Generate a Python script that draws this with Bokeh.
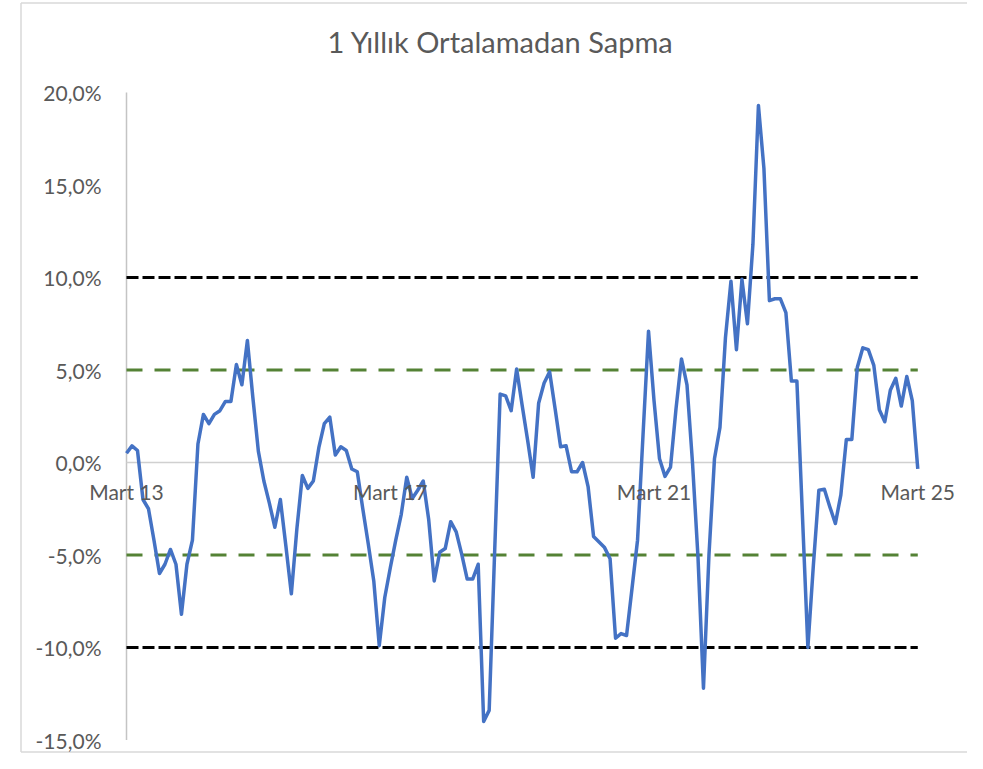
from bokeh.plotting import figure
from bokeh.models import Range1d
from bokeh.core.properties import value
from bokeh.embed import file_html
from bokeh.resources import INLINE

# ---------------- data ----------------
title_text = "1 Yıllık Ortalamadan Sapma"

# monthly deviation from 1-year average (%), Mart 2013 .. Mart 2025
deviation = [
    0.5, 0.9, 0.65, -2.0, -2.5, -4.2, -6.0, -5.5, -4.7, -5.5,
    -8.2, -5.5, -4.2, 1.0, 2.6, 2.1, 2.6, 2.8, 3.3, 3.3,
    5.3, 4.2, 6.6, 3.5, 0.6, -1.0, -2.2, -3.5, -2.0, -4.5,
    -7.1, -3.6, -0.7, -1.4, -1.0, 0.8, 2.1, 2.45, 0.4, 0.85,
    0.65, -0.35, -0.5, -2.5, -4.4, -6.4, -9.9, -7.3, -5.7, -4.2,
    -2.8, -0.8, -1.95, -1.5, -1.0, -3.1, -6.4, -4.85, -4.65, -3.2,
    -3.75, -4.95, -6.3, -6.3, -5.5, -14.0, -13.4, -4.8, 3.7, 3.6,
    2.8, 5.05, 3.1, 1.2, -0.8, 3.2, 4.3, 4.9, 2.9, 0.85,
    0.9, -0.5, -0.5, 0.0, -1.3, -4.0, -4.3, -4.6, -5.2, -9.5,
    -9.25, -9.35, -6.8, -4.2, 1.5, 7.1, 3.35, 0.2, -0.75, -0.25,
    2.9, 5.6, 4.2, 0.0, -5.1, -12.2, -5.0, 0.2, 1.9, 6.75,
    9.8, 6.1, 9.9, 7.5, 11.8, 19.3, 15.9, 8.75, 8.85, 8.85,
    8.1, 4.4, 4.4, -2.8, -10.0, -5.55, -1.5, -1.45, -2.4, -3.3,
    -1.75, 1.25, 1.25, 5.15, 6.2, 6.1, 5.25, 2.85, 2.2, 3.9,
    4.55, 3.05, 4.65, 3.35, -0.35,
]
month_index = list(range(len(deviation)))

category_labels = ["Mart 13", "Mart 17", "Mart 21", "Mart 25"]
category_positions = [0, 48, 96, 144]

y_ticks = [-15, -10, -5, 0, 5, 10, 15, 20]
y_tick_labels = ["-15,0%", "-10,0%", "-5,0%", "0,0%", "5,0%", "10,0%", "15,0%", "20,0%"]

band_outer = [10, -10]   # black dashed
band_inner = [5, -5]     # green dashed

# ---------------- layout / styling ----------------
TEXT = "#595959"
FONT = value("Lato")
W, H = 967, 753
PX_PER_MONTH = 5.495
PX_PER_PCT = 18.5
AXIS_PX_X, TOP20_PX_Y = 126, 92          # canvas position of (month 0, 20%)

x_start = -AXIS_PX_X / PX_PER_MONTH
x_end = (W - AXIS_PX_X) / PX_PER_MONTH
y_top = y_ticks[-1] + TOP20_PX_Y / PX_PER_PCT
y_bot = y_ticks[-1] - (H - TOP20_PX_Y) / PX_PER_PCT

p = figure(width=W, height=H,
           x_range=Range1d(x_start, x_end), y_range=Range1d(y_bot, y_top),
           output_backend="svg", toolbar_location=None,
           x_axis_location=None, y_axis_location=None,
           min_border=0)
p.outline_line_color = None
p.background_fill_color = "white"
p.border_fill_color = "white"
p.xgrid.visible = False
p.ygrid.visible = False

# chart-area border (left, top, bottom edges), each its own renderer
bx = (20.5 - AXIS_PX_X) / PX_PER_MONTH
bx_right = x_end + 2
by_top = y_ticks[-1] + (TOP20_PX_Y - 2.5) / PX_PER_PCT
by_bot = y_ticks[-1] - (H - 1.5 - TOP20_PX_Y) / PX_PER_PCT
BORDER = dict(line_color="#d9d9d9", line_width=1.5)
p.line([bx, bx_right], [by_top, by_top], **BORDER)
p.line([bx, bx], [by_top, by_bot], **BORDER)
p.line([bx, bx_right], [by_bot, by_bot], **BORDER)

x0 = month_index[0]
x1 = month_index[-1]

# value axis line
p.line([x0, x0], [y_ticks[0], y_ticks[-1]], line_color="#c4c4c4", line_width=1.5)
# value axis labels
p.text(x=[x0] * len(y_ticks), y=y_ticks, text=y_tick_labels, x_offset=-25,
       text_align="right", text_baseline="middle",
       text_color=TEXT, text_font=FONT, text_font_size="21px")

# zero (category) axis line
p.line([x0, x1], [0, 0], line_color="#d0d0d0", line_width=1.5)

# reference bands
for lvl in band_inner:
    p.line([x0, x1], [lvl, lvl], line_color="#548235", line_width=3, line_dash="16 12")
for lvl in band_outer:
    p.line([x0, x1], [lvl, lvl], line_color="black", line_width=3, line_dash="12 4")

# series
p.line(month_index, deviation, line_color="#4472C4", line_width=3.5, line_join="round")

# category labels
p.text(x=category_positions, y=[0] * len(category_positions), text=category_labels,
       y_offset=29, text_align="center", text_baseline="middle",
       text_color=TEXT, text_font=FONT, text_font_size="21px")

# title
p.text(x=[(x0 + x1) / 2 - 3.9], y=[22.75], text=[title_text],
       text_align="center", text_baseline="middle",
       text_color=TEXT, text_font=FONT, text_font_size="29px")

open("out.html", "w").write(file_html(p, INLINE))
